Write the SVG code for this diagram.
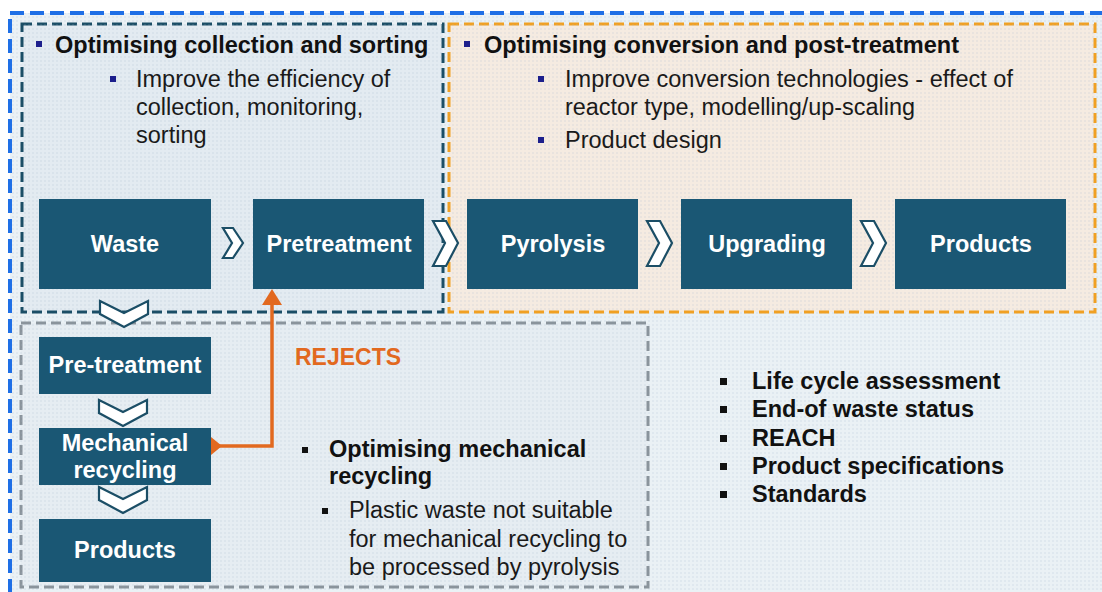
<svg xmlns="http://www.w3.org/2000/svg" width="1102" height="592" viewBox="0 0 1102 592">
  <defs>
    <pattern id="dots" width="4" height="4" patternUnits="userSpaceOnUse">
      <circle cx="1" cy="1" r="0.8" fill="#9fb6c6" fill-opacity="0.35"/>
    </pattern>
    <style>
      .node rect { fill: #1a5774; }
      .lbl { font-family: "Liberation Sans", Arial, sans-serif; font-weight: bold; font-size: 23.5px; fill: #ffffff; text-anchor: middle; }
      .hdr { font-family: "Liberation Sans", Arial, sans-serif; font-weight: bold; font-size: 23.5px; fill: #111111; }
      .sub { font-family: "Liberation Sans", Arial, sans-serif; font-size: 23.5px; fill: #1a1a1a; }
      .navy { fill: #1c1f8c; }
      .blk { fill: #111111; }
      .chev { fill: #ffffff; stroke: #1b4e66; stroke-width: 2.2; stroke-linejoin: miter; }
      .conn { fill: none; stroke: #e2691f; stroke-width: 3.5; }
    </style>
  </defs>

  <!-- background -->
  <rect x="0" y="0" width="1102" height="592" fill="#ffffff"/>
  <rect x="10" y="13" width="1100" height="600" fill="#eaf1f5"/>
  <rect x="10" y="13" width="1100" height="600" fill="url(#dots)"/>

  <!-- region frames -->
  <g id="frame-collection">
    <rect x="22" y="24" width="421" height="288" fill="#e3ebf1" stroke="#1b4e66" stroke-width="3" stroke-dasharray="10 5"/>
    <rect x="22" y="24" width="421" height="288" fill="url(#dots)"/>
  </g>
  <g id="frame-conversion">
    <rect x="449" y="24" width="646" height="288" fill="#f5ebe1" stroke="#f0a023" stroke-width="3" stroke-dasharray="10 5"/>
    <rect x="449" y="24" width="646" height="288" fill="url(#dots)"/>
  </g>
  <g id="frame-mechanical">
    <rect x="21" y="323" width="627" height="264" fill="#e6edf2" stroke="#8a949c" stroke-width="3" stroke-dasharray="10 5"/>
    <rect x="21" y="323" width="627" height="264" fill="url(#dots)"/>
  </g>
  <rect id="frame-outer" x="10" y="13" width="1100" height="600" fill="none" stroke="#1e6fe6" stroke-width="4" stroke-dasharray="14 6"/>

  <!-- texts: collection -->
  <g id="text-collection">
    <rect class="navy" x="36" y="41" width="6" height="6"/>
    <text class="hdr" x="55" y="53">Optimising collection and sorting</text>
    <rect class="navy" x="110" y="76" width="6" height="6"/>
    <text class="sub" x="136" y="87">Improve the efficiency of</text>
    <text class="sub" x="136" y="115">collection, monitoring,</text>
    <text class="sub" x="136" y="143">sorting</text>
  </g>

  <!-- texts: conversion -->
  <g id="text-conversion">
    <rect class="navy" x="464" y="41" width="6" height="6"/>
    <text class="hdr" x="484" y="53" textLength="475" lengthAdjust="spacingAndGlyphs">Optimising conversion and post-treatment</text>
    <rect class="navy" x="538" y="76" width="6" height="6"/>
    <text class="sub" x="565" y="87" textLength="448" lengthAdjust="spacingAndGlyphs">Improve conversion technologies - effect of</text>
    <text class="sub" x="565" y="115" textLength="350" lengthAdjust="spacingAndGlyphs">reactor type, modelling/up-scaling</text>
    <rect class="navy" x="538" y="137" width="6" height="6"/>
    <text class="sub" x="565" y="148">Product design</text>
  </g>

  <!-- connectors -->
  <g id="connectors">
    <polygon points="201,446 211,437 222,446 211,455" fill="#e2691f"/>
    <polyline class="conn" points="214,446 272,446 272,302"/>
    <polygon points="272,289 282,305 262,305" fill="#e2691f"/>
    <polygon class="chev" points="223,228 233,228 243,243 233,258 223,258 232,243"/>
    <polygon class="chev" points="433,221 446,221 458,243 446,266 433,266 445,243"/>
    <polygon class="chev" points="647,221 660,221 672,243 660,266 647,266 659,243"/>
    <polygon class="chev" points="861,221 874,221 886,243 874,266 861,266 873,243"/>
    <polygon class="chev" points="100,301 124,313 148,301 148,314 124,327 100,314"/>
    <polygon class="chev" points="99,400 123,412 147,400 147,413 123,426 99,413"/>
    <polygon class="chev" points="99,487 123,499 147,487 147,500 123,513 99,500"/>
  </g>

  <!-- nodes -->
  <g id="node-waste" class="node">
    <rect x="39" y="199" width="172" height="90"/>
    <text class="lbl" x="125" y="252">Waste</text>
  </g>
  <g id="node-pretreatment" class="node">
    <rect x="253" y="199" width="171" height="90"/>
    <text class="lbl" x="339" y="252">Pretreatment</text>
  </g>
  <g id="node-pyrolysis" class="node">
    <rect x="467" y="199" width="171" height="90"/>
    <text class="lbl" x="553" y="252">Pyrolysis</text>
  </g>
  <g id="node-upgrading" class="node">
    <rect x="681" y="199" width="171" height="90"/>
    <text class="lbl" x="767" y="252">Upgrading</text>
  </g>
  <g id="node-products" class="node">
    <rect x="895" y="199" width="171" height="90"/>
    <text class="lbl" x="981" y="252">Products</text>
  </g>
  <g id="node-pre-treatment" class="node">
    <rect x="39" y="337" width="172" height="57"/>
    <text class="lbl" x="125" y="373">Pre-treatment</text>
  </g>
  <g id="node-mechanical" class="node">
    <rect x="39" y="428" width="172" height="57"/>
    <text class="lbl" x="125" y="451">Mechanical</text>
    <text class="lbl" x="125" y="478">recycling</text>
  </g>
  <g id="node-products-mech" class="node">
    <rect x="39" y="519" width="172" height="63"/>
    <text class="lbl" x="125" y="558">Products</text>
  </g>

  <!-- texts: mechanical -->
  <g id="text-mechanical">
    <text x="295" y="365" font-family="'Liberation Sans', Arial, sans-serif" font-weight="bold" font-size="23" fill="#e2691f">REJECTS</text>
    <rect class="blk" x="302" y="447" width="6" height="6"/>
    <text class="hdr" x="329" y="457">Optimising mechanical</text>
    <text class="hdr" x="329" y="484">recycling</text>
    <rect class="blk" x="322" y="508" width="6" height="6"/>
    <text class="sub" x="349" y="518">Plastic waste not suitable</text>
    <text class="sub" x="349" y="547">for mechanical recycling to</text>
    <text class="sub" x="349" y="575">be processed by pyrolysis</text>
  </g>

  <!-- texts: regulatory list -->
  <g id="text-list">
    <rect class="blk" x="720" y="378" width="7" height="7"/>
    <text class="hdr" x="752" y="389">Life cycle assessment</text>
    <rect class="blk" x="720" y="406" width="7" height="7"/>
    <text class="hdr" x="752" y="417">End-of waste status</text>
    <rect class="blk" x="720" y="435" width="7" height="7"/>
    <text class="hdr" x="752" y="446">REACH</text>
    <rect class="blk" x="720" y="463" width="7" height="7"/>
    <text class="hdr" x="752" y="474">Product specifications</text>
    <rect class="blk" x="720" y="491" width="7" height="7"/>
    <text class="hdr" x="752" y="502">Standards</text>
  </g>
</svg>
